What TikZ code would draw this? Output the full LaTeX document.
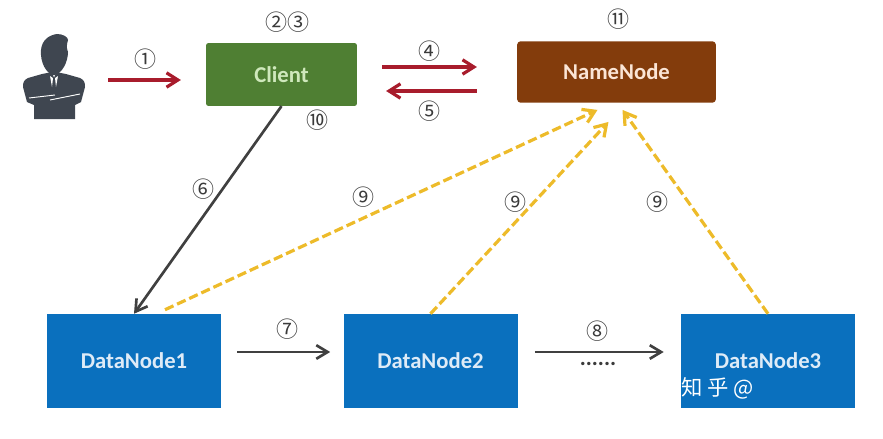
\documentclass[tikz,border=0pt]{standalone}
\usepackage{fontspec}
\setmainfont{Carlito}
\newfontfamily\cjkfont{Noto Sans CJK SC}
\usetikzlibrary{arrows.meta,calc}
\definecolor{clientfill}{HTML}{4F7F33}
\definecolor{clienttext}{HTML}{CFE8BC}
\definecolor{namefill}{HTML}{833C0C}
\definecolor{nametext}{HTML}{FBE5D6}
\definecolor{datafill}{HTML}{0A70BE}
\definecolor{datatext}{HTML}{DEEBF7}
\definecolor{redline}{HTML}{A81C2C}
\definecolor{darkline}{HTML}{404040}
\definecolor{yellowline}{HTML}{EDBB2A}
\definecolor{ink}{HTML}{3A3A3A}
\definecolor{person}{HTML}{3F4650}

\begin{document}
\begin{tikzpicture}[
  x=0.75pt, y=-0.75pt,
  clientbox/.style={fill=clientfill, rounded corners=1.5pt, minimum width=113pt,
    minimum height=47pt, font=\bfseries\fontsize{17}{19}\selectfont, text=clienttext},
  namebox/.style={fill=namefill, rounded corners=2.5pt, minimum width=149pt,
    minimum height=46pt, font=\bfseries\fontsize{17}{19}\selectfont, text=nametext},
  databox/.style={fill=datafill, minimum width=130.5pt,
    minimum height=70.5pt, font=\bfseries\fontsize{17}{19}\selectfont, text=datatext},
  num/.style={font=\cjkfont\fontsize{16.5}{18}\selectfont, text=ink},
  redarrow/.style={-{Straight Barb[length=3mm,width=3.8mm]}, line width=2.4pt, redline},
  darkarrow/.style={-{Straight Barb[length=3mm,width=3.6mm]}, line width=2pt, darkline},
  yellowarrow/.style={-{Straight Barb[length=3mm,width=3.8mm]}, line width=2.4pt, yellowline,
    dash pattern=on 7pt off 3pt}
]
  \useasboundingbox (0,0) rectangle (883,439);

  \node[clientbox] (client) at (281.5,74.5) {Client};
  \node[namebox] (namenode) at (616.5,72) {NameNode};
  \node[databox] (dn1) at (134,361) {DataNode1};
  \node[databox] (dn2) at (430.5,361) {DataNode2};
  \node[databox] (dn3) at (768,361) {DataNode3};
  \node[minimum width=46.5pt, minimum height=64.5pt, inner sep=0pt] (user) at (54,76) {};

  % person
  \fill[person] (41,50) .. controls (42,39) and (50,35) .. (57,34)
    .. controls (63,34) and (68,37) .. (68,40) .. controls (67,44) and (66,47) .. (68,52)
    .. controls (68,62) and (62,74) .. (54,75) .. controls (46,74) and (40,62) .. (41,50) -- cycle;
  \fill[person] (42,74) -- (52,72) -- (54,78) -- (56,72) -- (66,74) -- (80,78)
    .. controls (84,80) and (85,82) .. (85,87)
    -- (81,102) -- (75,105) -- (75,119) -- (34,119) -- (34,105) -- (27,102) -- (23,87)
    .. controls (23,82) and (24,80) .. (28,78) -- cycle;
  \fill[white] (50,76) -- (52,87) -- (53,78) -- cycle;
  \fill[white] (58,76) -- (56,87) -- (55,78) -- cycle;
  \draw[white, line width=0.7pt] (29,98) -- (55,95);
  \draw[white, line width=0.7pt] (50,100) -- (80,94);

  % arrows
  \draw[redarrow] ($(user.east)+(23,4)$) -- ($(client.west)+(-25,5.5)$);
  \draw[redarrow] ($(client.east)+(25,-7.5)$) -- ($(namenode.west)+(-40,-5)$);
  \draw[redarrow] ($(namenode.west)+(-40,19)$) -- ($(client.east)+(29,16.5)$);
  \draw[darkarrow] (client.south) -- (dn1.north);
  \draw[darkarrow] ($(dn1.east)+(16,-9)$) -- ($(dn2.west)+(-13,-9)$);
  \draw[darkarrow] ($(dn2.east)+(17,-9)$) -- ($(dn3.west)+(-17,-9)$);
  \draw[yellowarrow] ($(dn1.north)+(31,-4)$) -- ($(namenode.south)+(-19,7)$);
  \draw[yellowarrow] (dn2.north) -- ($(namenode.south)+(-8,19)$);
  \draw[yellowarrow] (dn3.north) -- ($(namenode.south)+(6,7)$);

  % numbers
  \node[num] (n1) at (145,59) {①};
  \node[num] (n23) at (287,22) {②③};
  \node[num] (n4) at (429,51) {④};
  \node[num] (n5) at (429,111) {⑤};
  \node[num] (n6) at (203,189) {⑥};
  \node[num] (n7) at (287,329) {⑦};
  \node[num] (n8) at (597,331) {⑧};
  \node[num] (n9a) at (363,197) {⑨};
  \node[num] (n9b) at (515,202) {⑨};
  \node[num] (n9c) at (657,202) {⑨};
  \node[num] (n10) at (317,120) {⑩};
  \node[num] (n11) at (618,19) {⑪};
  \node[font=\bfseries\fontsize{17}{19}\selectfont, text=ink] (dots) at (598,364) {......};
  \node[font=\cjkfont\fontsize{16}{18}\selectfont, text=white, anchor=west] (mark) at (677,388) {知 乎 @};
\end{tikzpicture}
\end{document}
